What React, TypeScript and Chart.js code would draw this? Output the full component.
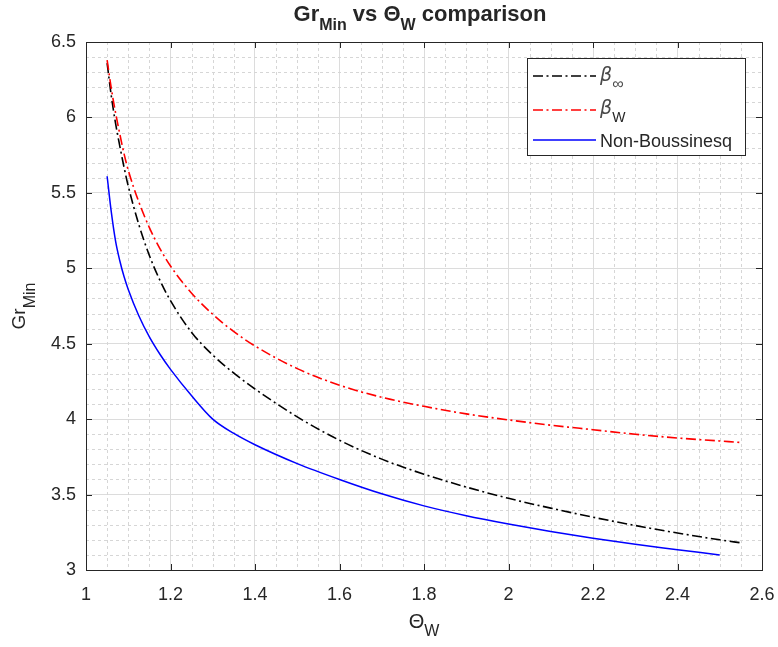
import React, { useEffect, useRef } from 'react';
import { Chart, registerables } from 'chart.js';

Chart.register(...registerables);

// ---- Data ----
const thetaInf = [1.05, 1.06, 1.07, 1.08, 1.09, 1.1, 1.125, 1.15, 1.175, 1.2, 1.25, 1.3, 1.35, 1.4, 1.5, 1.6, 1.7, 1.8, 1.9, 2.0, 2.1, 2.2, 2.3, 2.4, 2.5, 2.55];
const grInf = [6.36, 6.14, 5.96, 5.81, 5.67, 5.545, 5.29, 5.085, 4.92, 4.785, 4.575, 4.425, 4.305, 4.2, 4.015, 3.86, 3.735, 3.635, 3.55, 3.475, 3.41, 3.35, 3.295, 3.245, 3.2, 3.18];

const thetaWall = [1.05, 1.06, 1.07, 1.08, 1.09, 1.1, 1.125, 1.15, 1.175, 1.2, 1.25, 1.3, 1.35, 1.4, 1.5, 1.6, 1.7, 1.8, 1.9, 2.0, 2.1, 2.2, 2.3, 2.4, 2.5, 2.55];
const grWall = [6.38, 6.19, 6.03, 5.89, 5.76, 5.65, 5.44, 5.27, 5.13, 5.015, 4.835, 4.695, 4.58, 4.485, 4.335, 4.225, 4.145, 4.085, 4.035, 3.995, 3.96, 3.93, 3.9, 3.875, 3.855, 3.845];

const thetaNB = [1.05, 1.06, 1.07, 1.08, 1.09, 1.1, 1.125, 1.15, 1.175, 1.2, 1.25, 1.3, 1.35, 1.4, 1.5, 1.6, 1.7, 1.8, 1.9, 2.0, 2.1, 2.2, 2.3, 2.4, 2.5];
const grNB = [5.61, 5.37, 5.18, 5.05, 4.945, 4.86, 4.685, 4.545, 4.43, 4.33, 4.155, 4.0, 3.905, 3.83, 3.705, 3.6, 3.505, 3.425, 3.36, 3.305, 3.255, 3.21, 3.17, 3.135, 3.1];

const xRange = [1, 2.6];
const yRange = [3, 6.5];
const xMajorStep = 0.2;
const yMajorStep = 0.5;

const FONT = '"Liberation Sans", Arial, Helvetica, sans-serif';
const TEXT = '#262626';
const DASHDOT = [10, 3.5, 2, 3.5];

type Seg = { t: string; size: number; bold?: boolean; italic?: boolean; dy?: number; family?: string; color?: string };

function fontStr(s: Seg) {
  return `${s.italic ? 'italic ' : ''}${s.bold ? 'bold ' : ''}${s.size}px ${s.family ?? FONT}`;
}
function richWidth(ctx: CanvasRenderingContext2D, segs: Seg[]) {
  let w = 0;
  for (const s of segs) {
    ctx.font = fontStr(s);
    w += ctx.measureText(s.t).width;
  }
  return w;
}
function drawRich(ctx: CanvasRenderingContext2D, segs: Seg[], x: number, y: number, align: 'left' | 'center') {
  const w = richWidth(ctx, segs);
  let cx = align === 'center' ? x - w / 2 : x;
  ctx.textAlign = 'left';
  ctx.textBaseline = 'alphabetic';
  for (const s of segs) {
    ctx.font = fontStr(s);
    ctx.fillStyle = s.color ?? TEXT;
    ctx.fillText(s.t, cx, y + (s.dy ?? 0));
    cx += ctx.measureText(s.t).width;
  }
}

const decorPlugin = {
  id: 'decor',
  beforeDatasetsDraw(chart: any) {
    const { ctx, chartArea: a, scales } = chart;
    const xs = scales.x;
    const ys = scales.y;
    ctx.save();
    ctx.strokeStyle = '#d6d6d6';
    ctx.lineWidth = 1;
    ctx.setLineDash([3, 3]);
    for (let i = 21; i < 52; i++) {
      if (i % 4 === 0) continue;
      const px = Math.round(xs.getPixelForValue(i * 0.05)) + 0.5;
      ctx.beginPath();
      ctx.moveTo(px, a.top);
      ctx.lineTo(px, a.bottom);
      ctx.stroke();
    }
    for (let j = 31; j < 65; j++) {
      if (j % 5 === 0) continue;
      const py = Math.round(ys.getPixelForValue(j * 0.1)) + 0.5;
      ctx.beginPath();
      ctx.moveTo(a.left, py);
      ctx.lineTo(a.right, py);
      ctx.stroke();
    }
    ctx.restore();
  },
  afterDatasetsDraw(chart: any) {
    const { ctx, chartArea: a, scales } = chart;
    const xs = scales.x;
    const ys = scales.y;
    ctx.save();
    ctx.setLineDash([]);
    ctx.strokeStyle = TEXT;
    ctx.lineWidth = 1;
    ctx.strokeRect(Math.round(a.left) + 0.5, Math.round(a.top) + 0.5, Math.round(a.right - a.left), Math.round(a.bottom - a.top));
    const tl = 6;
    for (let i = 0; i <= 8; i++) {
      const px = Math.round(xs.getPixelForValue(xRange[0] + i * xMajorStep)) + 0.5;
      ctx.beginPath();
      ctx.moveTo(px, a.bottom);
      ctx.lineTo(px, a.bottom - tl);
      ctx.moveTo(px, a.top);
      ctx.lineTo(px, a.top + tl);
      ctx.stroke();
    }
    for (let j = 0; j <= 7; j++) {
      const py = Math.round(ys.getPixelForValue(yRange[0] + j * yMajorStep)) + 0.5;
      ctx.beginPath();
      ctx.moveTo(a.left, py);
      ctx.lineTo(a.left + tl, py);
      ctx.moveTo(a.right, py);
      ctx.lineTo(a.right - tl, py);
      ctx.stroke();
    }

    // legend
    const lx = 527, ly = 58, lw = 218, lh = 97;
    ctx.fillStyle = '#ffffff';
    ctx.fillRect(lx, ly, lw, lh);
    ctx.strokeStyle = TEXT;
    ctx.strokeRect(lx + 0.5, ly + 0.5, lw, lh);
    const beta: Seg = { t: 'β', size: 19, italic: true, family: '"DejaVu Sans", sans-serif', color: '#4a4a4a' };
    const rows = [
      { y: 76, color: '#000000', dash: DASHDOT, base: 81, segs: [beta, { t: '∞', size: 16, dy: 8, color: '#4a4a4a' }] as Seg[] },
      { y: 110, color: '#ff0000', dash: DASHDOT, base: 114, segs: [beta, { t: 'W', size: 14, dy: 8 }] as Seg[] },
      { y: 140, color: '#0000ff', dash: [] as number[], base: 147, segs: [{ t: 'Non-Boussinesq', size: 18 }] as Seg[] },
    ];
    for (const r of rows) {
      ctx.strokeStyle = r.color;
      ctx.lineWidth = 1.5;
      ctx.setLineDash(r.dash);
      ctx.beginPath();
      ctx.moveTo(533, r.y);
      ctx.lineTo(596, r.y);
      ctx.stroke();
      ctx.setLineDash([]);
      drawRich(ctx, r.segs, 600, r.base, 'left');
    }
    ctx.restore();
  },
  afterDraw(chart: any) {
    const { ctx, chartArea: a } = chart;
    const cx = (a.left + a.right) / 2;
    ctx.save();
    drawRich(ctx, [
      { t: 'Gr', size: 22, bold: true },
      { t: 'Min', size: 16, bold: true, dy: 9 },
      { t: ' vs ', size: 22, bold: true },
      { t: 'Θ', size: 22, bold: true },
      { t: 'W', size: 16, bold: true, dy: 9 },
      { t: ' comparison', size: 22, bold: true },
    ], cx - 4, 21, 'center');
    drawRich(ctx, [
      { t: 'Θ', size: 20 },
      { t: 'W', size: 16, dy: 8 },
    ], cx, 628, 'center');
    ctx.translate(25, (a.top + a.bottom) / 2);
    ctx.rotate(-Math.PI / 2);
    drawRich(ctx, [
      { t: 'Gr', size: 19 },
      { t: 'Min', size: 16, dy: 10 },
    ], 0, 0, 'center');
    ctx.restore();
  },
};

function fmt(v: number) {
  return String(Number(Number(v).toFixed(1)));
}

export default function App() {
  const ref = useRef<HTMLCanvasElement | null>(null);
  useEffect(() => {
    if (!ref.current) return;
    const chart = new Chart(ref.current, {
      type: 'line',
      data: {
        datasets: [
          {
            label: 'β∞',
            data: thetaInf.map((x, i) => ({ x, y: grInf[i] })),
            borderColor: '#000000',
            borderWidth: 1.6,
            borderDash: DASHDOT,
            pointRadius: 0,
            cubicInterpolationMode: 'monotone',
            fill: false,
            order: 2,
          },
          {
            label: 'βW',
            data: thetaWall.map((x, i) => ({ x, y: grWall[i] })),
            borderColor: '#ff0000',
            borderWidth: 1.6,
            borderDash: DASHDOT,
            pointRadius: 0,
            cubicInterpolationMode: 'monotone',
            fill: false,
            order: 1,
          },
          {
            label: 'Non-Boussinesq',
            data: thetaNB.map((x, i) => ({ x, y: grNB[i] })),
            borderColor: '#0000ff',
            borderWidth: 1.5,
            pointRadius: 0,
            cubicInterpolationMode: 'monotone',
            fill: false,
            order: 0,
          },
        ],
      },
      options: {
        responsive: false,
        animation: false,
        events: [],
        layout: { padding: { top: 42, right: 16, left: 0, bottom: 0 } },
        plugins: {
          legend: { display: false },
          title: { display: false },
          tooltip: { enabled: false },
        },
        scales: {
          x: {
            type: 'linear',
            min: xRange[0],
            max: xRange[1],
            afterFit: (s: any) => { s.height = 77; s.paddingLeft = 0; s.paddingRight = 0; },
            ticks: {
              stepSize: xMajorStep,
              callback: (v: any) => fmt(v),
              font: { family: FONT, size: 18 },
              color: TEXT,
              padding: 14,
              maxRotation: 0,
            },
            grid: { color: '#dcdcdc', lineWidth: 1, drawTicks: false },
            border: { display: false },
          },
          y: {
            type: 'linear',
            min: yRange[0],
            max: yRange[1],
            afterFit: (s: any) => { s.width = 86; s.paddingTop = 0; s.paddingBottom = 0; },
            ticks: {
              stepSize: yMajorStep,
              callback: (v: any) => fmt(v),
              font: { family: FONT, size: 18 },
              color: TEXT,
              padding: 10,
            },
            grid: { color: '#dcdcdc', lineWidth: 1, drawTicks: false },
            border: { display: false },
          },
        },
      } as any,
      plugins: [decorPlugin],
    });
    return () => chart.destroy();
  }, []);
  return (
    <div style={{ position: 'fixed', left: 0, top: 0, width: 778, height: 647, background: '#fff' }}>
      <canvas ref={ref} width={778} height={647} style={{ width: 778, height: 647, display: 'block' }} />
    </div>
  );
}
